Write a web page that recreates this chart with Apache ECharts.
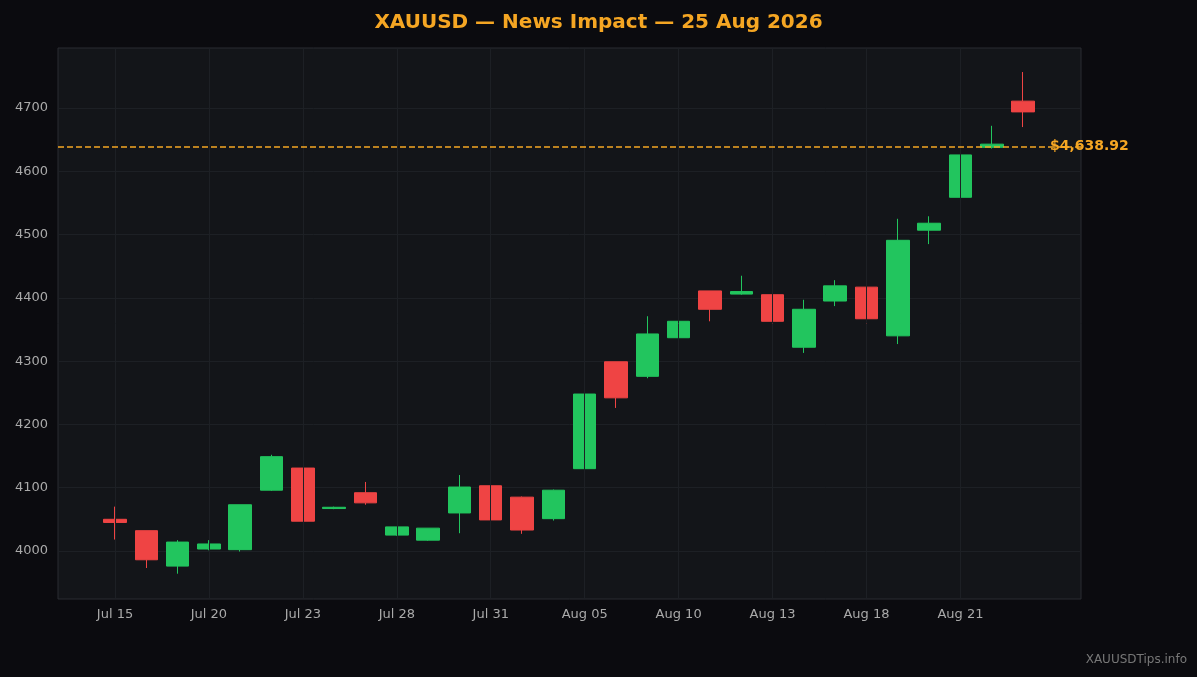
<!DOCTYPE html>
<html><head><meta charset="utf-8">
<script src="https://cdn.jsdelivr.net/npm/echarts@6/dist/echarts.min.js"></script>
<style>html,body{margin:0;padding:0;background:#0b0b0f;}#c{width:1197px;height:677px;}</style>
</head><body><div id="c"></div>
<script>
const dates = ['Jul 15','Jul 16','Jul 17','Jul 20','Jul 21','Jul 22','Jul 23','Jul 24','Jul 27','Jul 28','Jul 29','Jul 30','Jul 31','Aug 03','Aug 04','Aug 05','Aug 06','Aug 07','Aug 10','Aug 11','Aug 12','Aug 13','Aug 14','Aug 17','Aug 18','Aug 19','Aug 20','Aug 21','Aug 24','Aug 25'];
const opens  = [4050,4032,3976,4003,4002,4096,4131,4067,4092,4025,4017,4060,4103,4085,4051,4130,4299,4276,4337,4411,4406,4405,4322,4395,4417,4340,4507,4559,4638,4711];
const closes = [4045,3986,4014,4011,4073,4149,4047,4069,4076,4038,4036,4101,4049,4033,4096,4248,4242,4343,4363,4382,4410,4363,4382,4419,4367,4491,4518,4626,4643,4694];
const lows   = [4018,3973,3964,4001,3999,4095,4047,4066,4073,4024,4016,4028,4021,4027,4048,4129,4226,4273,4336,4363,4405,4351,4313,4387,4330,4327,4485,4559,4636,4670];
const highs  = [4070,4032,4017,4017,4073,4152,4131,4070,4109,4038,4036,4120,4105,4086,4097,4264,4299,4371,4390,4411,4435,4446,4397,4428,4436,4525,4529,4626,4672,4757];
const yTicks = [4000,4100,4200,4300,4400,4500,4600,4700];
const xTickIdx = [0,3,6,9,12,15,18,21,24,27];
const lastPrice = 4638.92;
const title = 'XAUUSD — News Impact — 25 Aug 2026';

const data = dates.map((d,i)=>[i,opens[i],closes[i],lows[i],highs[i]]);
const chart = echarts.init(document.getElementById('c'));
chart.setOption({
  backgroundColor:'#0b0b0f',
  animation:false,
  title:{text:title,left:'center',top:8,textStyle:{color:'#f5a623',fontSize:20,fontWeight:'bold',fontFamily:'DejaVu Sans'}},
  graphic:[{type:'text',right:10,bottom:11,style:{text:'XAUUSDTips.info',fill:'#777',fontSize:12,fontFamily:'DejaVu Sans'}}],
  grid:{left:58,right:116,top:48,bottom:78,show:true,backgroundColor:'#131519',borderColor:'#2a2d33',borderWidth:1},
  xAxis:{type:'value',min:-1.82,max:30.85,
    axisLine:{show:false},axisTick:{show:false},
    axisLabel:{customValues:xTickIdx,color:'#aaa',fontSize:13,fontFamily:'DejaVu Sans',margin:9,formatter:v=>dates[Math.round(v)]||''},
    splitLine:{show:false}},
  yAxis:{type:'value',min:3924,max:4795,
    axisLine:{show:false},axisTick:{show:false,customValues:yTicks},
    axisLabel:{customValues:yTicks,color:'#aaa',fontSize:13,fontFamily:'DejaVu Sans',margin:10,formatter:v=>String(v)},
    splitLine:{show:true,lineStyle:{color:'#1d2025'}}},
  series:[
    {type:'line',data:[],silent:true,
      markLine:{symbol:'none',silent:true,label:{show:false},
        lineStyle:{color:'#1d2025',type:'solid',width:1},
        data:xTickIdx.map(i=>({xAxis:i}))}},
    {type:'candlestick',data:data,barWidth:23,
    itemStyle:{color:'#22c55e',color0:'#ef4444',borderColor:'#22c55e',borderColor0:'#ef4444',borderWidth:1},
    markLine:{symbol:'none',silent:true,
      data:[{yAxis:lastPrice}],
      lineStyle:{color:'#f5a623',type:'dashed',width:1.5},
      label:{position:'end',distance:-31,formatter:'$4,638.92',color:'#f5a623',fontWeight:'bold',fontSize:14,fontFamily:'DejaVu Sans'}}}]
});
</script></body></html>
